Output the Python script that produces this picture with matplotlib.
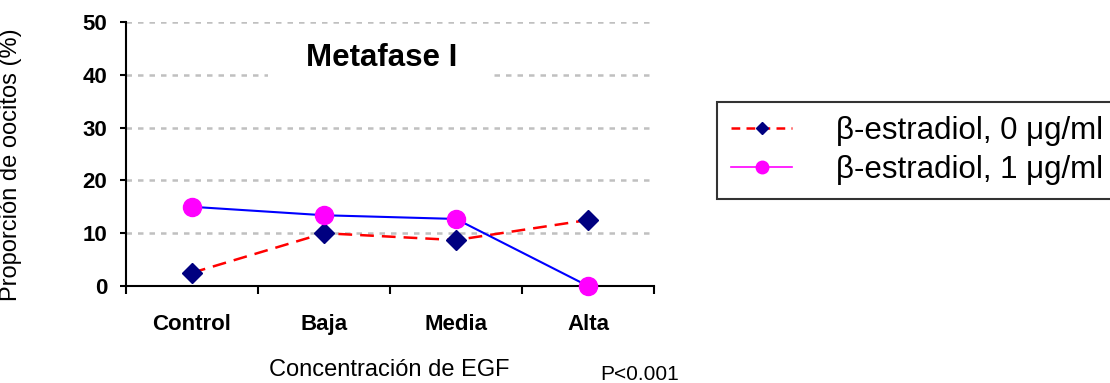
import numpy as np
import matplotlib
matplotlib.use("Agg")
import matplotlib.pyplot as plt
from matplotlib.lines import Line2D
from matplotlib.patches import Rectangle

plt.rcParams['font.family'] = ['Liberation Sans', 'DejaVu Sans']

# data
categories = ["Control", "Baja", "Media", "Alta"]
estradiol_0 = [2.5, 10.0, 8.7, 12.5]
estradiol_1 = [15.0, 13.4, 12.7, 0.0]
series_labels = ["\u03b2-estradiol, 0 \u03bcg/ml", "\u03b2-estradiol, 1 \u03bcg/ml"]
y_ticks = [0, 10, 20, 30, 40, 50]


def main():
    fig = plt.figure(figsize=(11.1, 3.83), dpi=100)
    ax = fig.add_axes([126 / 1110, 1 - 286 / 383, 528 / 1110, 264 / 383])

    x = np.arange(len(categories))

    # gridlines (dashed gray)
    for v in y_ticks[1:]:
        ax.axhline(v, color="#c0c0c0", lw=1.8, ls=(0, (2.2, 2.4)), zorder=1)

    # white box behind the title hides part of the 40 gridline
    ax.add_patch(Rectangle((0.576, 36.5), 1.69, 11.0, facecolor="white",
                           edgecolor="none", zorder=2))
    ax.text(0.485, 0.865, "Metafase I", transform=ax.transAxes, ha="center",
            va="center", fontsize=22.5, fontweight="bold", zorder=3)

    ax.plot(x, estradiol_0, color="red", ls=(0, (5.5, 3.2)), lw=1.8,
            marker="D", ms=10, mfc="#000080", mec="#000080", zorder=4,
            clip_on=False)
    ax.plot(x, estradiol_1, color="#0000ff", lw=1.5,
            marker="o", ms=13, mfc="#ff00ff", mec="#ff00ff", zorder=5,
            clip_on=False)

    ax.set_xlim(-0.5, 3.5)
    ax.set_ylim(0, 50)
    ax.set_yticks(y_ticks)
    ax.set_xticks(x)
    ax.set_xticklabels(categories, fontsize=16, fontweight="bold")
    ax.set_xticks(np.arange(-0.5, 4, 1), minor=True)
    ax.tick_params(axis="x", which="major", length=0, pad=20)
    ax.tick_params(axis="x", which="minor", length=5.5, width=1.5, direction="out")
    ax.tick_params(axis="y", length=4.5, width=1.5, direction="out", pad=9,
                   labelsize=16)
    for lab in ax.get_yticklabels():
        lab.set_fontweight("bold")

    for s in ["top", "right"]:
        ax.spines[s].set_visible(False)
    for s in ["left", "bottom"]:
        ax.spines[s].set_linewidth(1.5)
        ax.spines[s].set_zorder(3)

    ax.set_ylabel("Proporci\u00f3n de oocitos (%)", fontsize=17)
    ax.yaxis.set_label_coords(-0.197, 0.458)
    ax.set_xlabel("Concentraci\u00f3n de EGF", fontsize=17, va="center")
    ax.xaxis.set_label_coords(0.498, -0.318)

    fig.text(640 / 1110, 1 - 374 / 383, "P<0.001", ha="center", va="center",
             fontsize=15)

    handles = [
        Line2D([], [], color="red", ls=(0, (3.5, 2.5)), lw=1.8, marker="D",
               ms=6, mfc="#000080", mec="#000080"),
        Line2D([], [], color="#ff00ff", lw=1.2, marker="o", ms=9,
               mfc="#ff00ff", mec="#ff00ff"),
    ]
    leg = fig.legend(handles, series_labels, loc="upper left",
                     bbox_to_anchor=(717 / 1110, 1 - 102 / 383),
                     fontsize=22.5, frameon=True, fancybox=False,
                     edgecolor="black", handlelength=1.95, handletextpad=1.4,
                     labelspacing=0.28, borderpad=0.45, borderaxespad=0)
    leg.get_frame().set_linewidth(1.5)

    fig.savefig("out.png", dpi=100)


if __name__ == '__main__':
    main()
